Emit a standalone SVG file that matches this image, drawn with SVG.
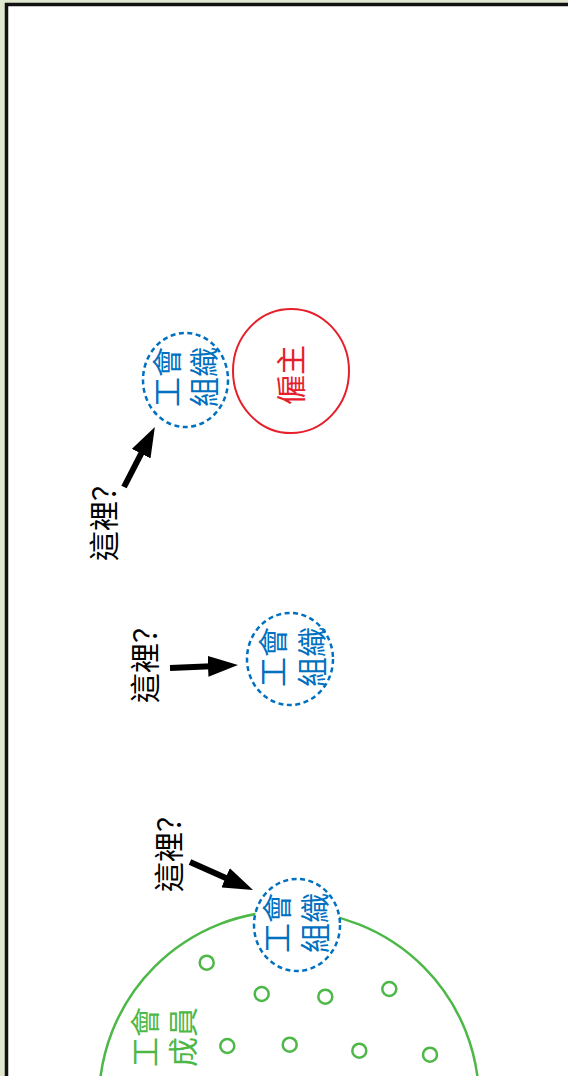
<svg xmlns="http://www.w3.org/2000/svg" width="568" height="1076" viewBox="0 0 568 1076">
  <defs>
    <style>
      .cjk { font-family: "Noto Sans CJK TC", "Noto Sans CJK SC", sans-serif; font-size: 30px; }
      .q { font-family: "Noto Sans CJK SC", "Noto Sans CJK TC", sans-serif; }
      .union { fill: #ffffff; stroke: #0070c0; stroke-width: 2.5; stroke-dasharray: 5 3.5; }
      .blue { fill: #0070c0; }
      .green { fill: #4db848; }
      .red { fill: #e6202a; }
      .member { fill: none; stroke: #4db848; stroke-width: 2.5; }
      .arrow { stroke: #000000; stroke-width: 6; fill: none; }
      .here { fill: #000000; }
    </style>
    <marker id="head" viewBox="0 0 30 21" markerUnits="userSpaceOnUse" markerWidth="30" markerHeight="21" refX="15" refY="10.5" orient="auto">
      <path d="M0,0 L30,10.5 L0,21 Z" fill="#000000"/>
    </marker>
  </defs>

  <rect x="0" y="0" width="568" height="1076" fill="#dfe7cf"/>
  <rect id="frame" x="6.5" y="4.5" width="600" height="1100" fill="#ffffff" stroke="#111111" stroke-width="3.5"/>

  <g id="members">
    <circle cx="289" cy="1101" r="190" fill="none" stroke="#4db848" stroke-width="2.5"/>
    <circle class="member" cx="206.7" cy="962.7" r="7"/>
    <circle class="member" cx="261.7" cy="994" r="7"/>
    <circle class="member" cx="325.3" cy="996.7" r="7"/>
    <circle class="member" cx="389.3" cy="989" r="7"/>
    <circle class="member" cx="227.3" cy="1046" r="7"/>
    <circle class="member" cx="289.7" cy="1044.7" r="7"/>
    <circle class="member" cx="359.3" cy="1050.7" r="7"/>
    <circle class="member" cx="430" cy="1054.7" r="7"/>
    <text class="cjk green" transform="translate(164,1037) rotate(-90)" text-anchor="middle"><tspan x="0" y="-8">工會</tspan><tspan x="0" y="30">成員</tspan></text>
  </g>

  <g id="union1">
    <ellipse class="union" cx="185.5" cy="380" rx="42.5" ry="47"/>
    <text class="cjk blue" transform="translate(186,377) rotate(-90)" text-anchor="middle"><tspan x="0" y="-8">工會</tspan><tspan x="0" y="29">組織</tspan></text>
  </g>

  <g id="employer">
    <ellipse cx="291" cy="371" rx="58" ry="62" fill="#ffffff" stroke="#e6202a" stroke-width="2"/>
    <text class="cjk red" transform="translate(291,375) rotate(-90)" text-anchor="middle" y="11">僱主</text>
  </g>

  <g id="union2">
    <ellipse class="union" cx="290" cy="659" rx="43" ry="46"/>
    <text class="cjk blue" transform="translate(292.5,657) rotate(-90)" text-anchor="middle"><tspan x="0" y="-8.5">工會</tspan><tspan x="0" y="30.5">組織</tspan></text>
  </g>

  <g id="union3">
    <ellipse class="union" cx="297" cy="925" rx="43" ry="46"/>
    <text class="cjk blue" transform="translate(296,923) rotate(-90)" text-anchor="middle"><tspan x="0" y="-8">工會</tspan><tspan x="0" y="30">組織</tspan></text>
  </g>

  <g id="label1">
    <text class="cjk here" transform="translate(104,561) rotate(-90)" x="0" y="11">這裡<tspan class="q">？</tspan></text>
  </g>
  <g id="label2">
    <text class="cjk here" transform="translate(145,703) rotate(-90)" x="0" y="11">這裡<tspan class="q">？</tspan></text>
  </g>
  <g id="label3">
    <text class="cjk here" transform="translate(169,892) rotate(-90)" x="0" y="11">這裡<tspan class="q">？</tspan></text>
  </g>

  <g id="connectors">
    <line class="arrow" x1="124" y1="487" x2="148" y2="440.3" marker-end="url(#head)"/>
    <line class="arrow" x1="170" y1="668" x2="223" y2="665.7" marker-end="url(#head)"/>
    <line class="arrow" x1="190" y1="862" x2="239.3" y2="883.9" marker-end="url(#head)"/>
  </g>
</svg>
